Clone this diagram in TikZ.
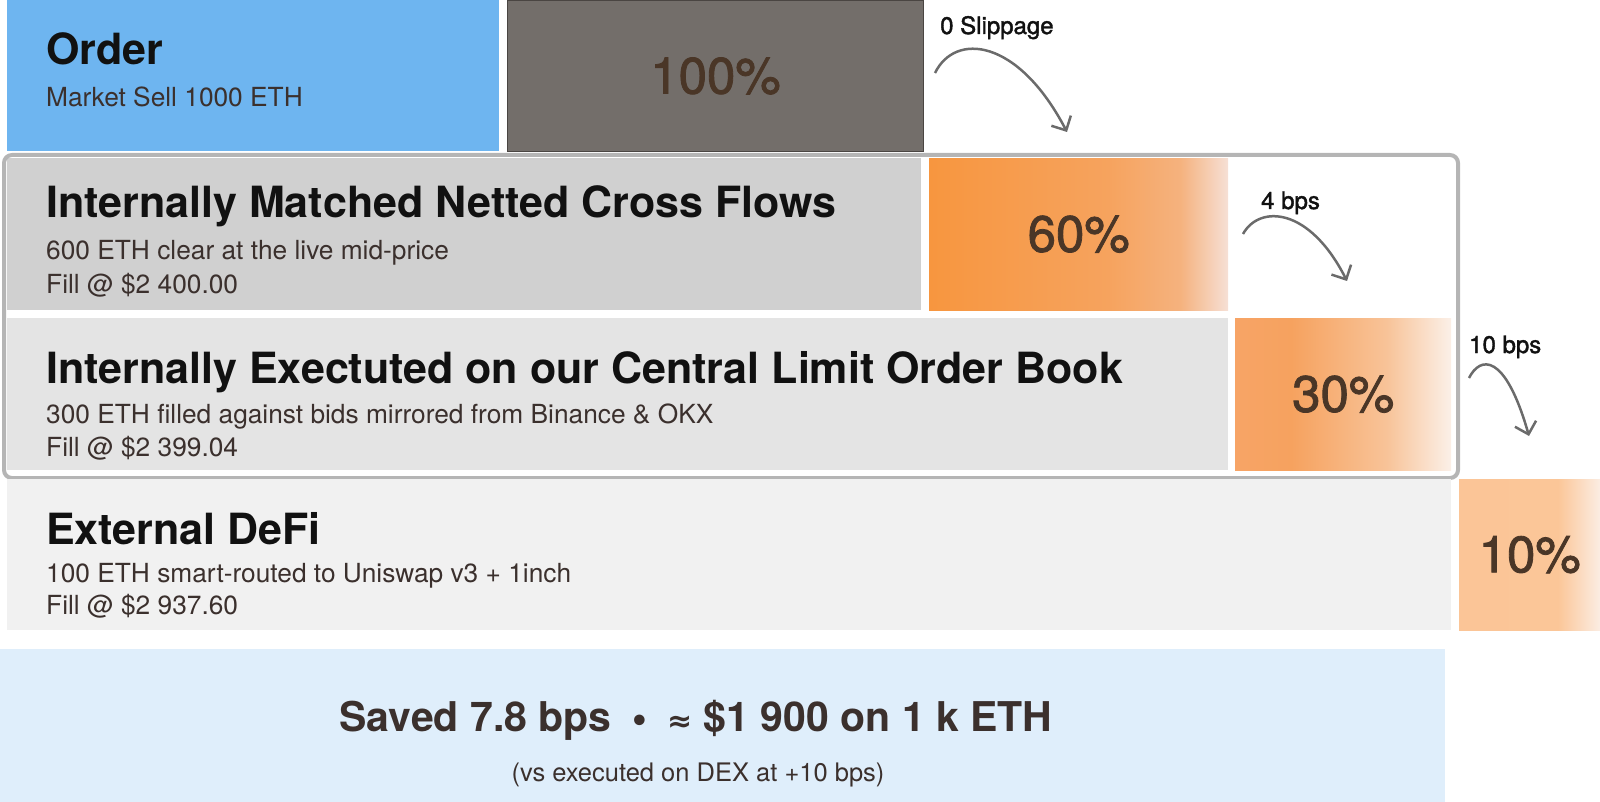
\documentclass[tikz,border=0pt]{standalone}
\usepackage{fontspec}
\setmainfont{TeX Gyre Heros}
\newfontfamily\symfont{DejaVu Sans}
\newfontfamily\midfont[FakeBold=1.6]{TeX Gyre Heros}
\usetikzlibrary{arrows.meta, positioning}
\usepackage{xcolor}

\definecolor{orderblue}{HTML}{6EB5F0}
\definecolor{fullgray}{HTML}{736E6A}
\definecolor{fulledge}{HTML}{4A4542}
\definecolor{rowA}{HTML}{D0D0D0}
\definecolor{rowB}{HTML}{E4E4E4}
\definecolor{rowC}{HTML}{F1F1F1}
\definecolor{savebg}{HTML}{DFEEFB}
\definecolor{framegray}{HTML}{B5B5B5}
\definecolor{titleink}{HTML}{111111}
\definecolor{subink}{HTML}{3B302D}
\definecolor{pctink}{HTML}{4A3627}
\definecolor{arrowgray}{HTML}{6B6B6B}

% orange fades for the share boxes
\definecolor{oA1}{HTML}{F7963F}
\definecolor{oA2}{HTML}{F6A35E}
\definecolor{oA3}{HTML}{F5B27E}
\definecolor{oA4}{HTML}{F6E0D6}
\definecolor{oB1}{HTML}{F7A466}
\definecolor{oB2}{HTML}{F6A25F}
\definecolor{oB3}{HTML}{F8C398}
\definecolor{oB4}{HTML}{FBF0E8}
\definecolor{oC1}{HTML}{FBC597}
\definecolor{oC2}{HTML}{FBC698}
\definecolor{oC3}{HTML}{FBEDE3}

\pgfdeclarehorizontalshading{fadesixty}{100bp}{color(0bp)=(oA1); color(25bp)=(oA1); color(55bp)=(oA2); color(67bp)=(oA3); color(75bp)=(oA4); color(100bp)=(oA4)}
\pgfdeclarehorizontalshading{fadethirty}{100bp}{color(0bp)=(oB1); color(25bp)=(oB1); color(38bp)=(oB2); color(60bp)=(oB3); color(75bp)=(oB4); color(100bp)=(oB4)}
\pgfdeclarehorizontalshading{fadeten}{100bp}{color(0bp)=(oC1); color(25bp)=(oC1); color(60bp)=(oC2); color(75bp)=(oC3); color(100bp)=(oC3)}

\begin{document}
\begin{tikzpicture}[
    x=1pt, y=-1pt,
    panel/.style={rectangle, anchor=north west, inner sep=0pt},
    pct/.style={text=pctink, font=\fontsize{51}{56}\midfont},
    title/.style={anchor=base west, inner sep=0pt, text=titleink, font=\fontsize{43}{48}\selectfont\bfseries},
    sub/.style={anchor=base west, inner sep=0pt, text=subink, font=\fontsize{26.3}{30}\selectfont},
    slip/.style={anchor=base west, inner sep=0pt, text=titleink, font=\fontsize{24}{28}\midfont},
    flow/.style={draw=arrowgray, line width=2.5pt, -{Straight Barb[length=11pt, width=22pt]}}
]
\useasboundingbox (0,0) rectangle (1600,802);

% Order
\node[panel, fill=orderblue, minimum width=492, minimum height=151] (order) at (7,0) {};
\node[panel, fill=fullgray, draw=fulledge, line width=1pt, minimum width=416, minimum height=151] (full) at (507,0) {};
\node[pct] (fullpct) at (full.center) {100\%};
\node[title] (ordertitle) at (46,65) {Order};
\node[sub] (ordersub) at (46,107) {Market Sell 1000 ETH};

% Internal venues
\node[panel, fill=rowA, minimum width=914, minimum height=152] (matched) at (7,158) {};
\node[panel, shading=fadesixty, minimum width=299, minimum height=152] (sixty) at (929,158) {};
\node[pct] (sixtypct) at (sixty.center) {60\%};
\node[title] (matchedtitle) at (46,218) {Internally Matched Netted Cross Flows};
\node[sub] (matchedsub) at (46,260) {600 ETH clear at the live mid-price};
\node[sub] (matchedfill) at (46,293) {Fill @ \$2 400.00};

\node[panel, fill=rowB, minimum width=1221, minimum height=152] (clob) at (7,318) {};
\node[panel, shading=fadethirty, minimum width=216, minimum height=152] (thirty) at (1235,318) {};
\node[pct] (thirtypct) at (thirty.center) {30\%};
\node[title] (clobtitle) at (46,383) {Internally Exectuted on our Central Limit Order Book};
\node[sub] (clobsub) at (46,423) {300 ETH filled against bids mirrored from Binance \& OKX};
\node[sub] (clobfill) at (46,456) {Fill @ \$2 399.04};

\node[panel, draw=framegray, line width=4pt, rounded corners=8pt, minimum width=1454, minimum height=323] (internal) at (2,153) {};

% External
\node[panel, fill=rowC, minimum width=1444, minimum height=151] (defi) at (7,479) {};
\node[panel, shading=fadeten, minimum width=141, minimum height=151] (ten) at (1459,479) {};
\node[pct] (tenpct) at (ten.center) {10\%};
\node[title] (defititle) at (46,544) {External DeFi};
\node[sub] (defisub) at (46,582) {100 ETH smart-routed to Uniswap v3 + 1inch};
\node[sub] (defifill) at (46,614) {Fill @ \$2 937.60};

% Savings
\node[panel, fill=savebg, minimum width=1445, minimum height=153] (savings) at (0,649) {};
\node[anchor=base, inner sep=0pt, text=subink, font=\fontsize{41}{46}\selectfont\bfseries] (saved) at (696,731)
    {Saved 7.8 bps \,{\symfont\fontsize{30}{30}\selectfont •}\, {\symfont\fontsize{30}{30}\selectfont ≈} \$1 900 on 1 k ETH};
\node[anchor=base, inner sep=0pt, text=subink, font=\fontsize{25.5}{30}\selectfont] (savednote) at (698,781)
    {(vs executed on DEX at +10 bps)};

% Slippage arrows
\node[slip] (slipzero) at (940,34) {0 Slippage};
\coordinate (zerofrom) at (935,73);
\coordinate (zeroto) at (1067,132);
\draw[flow] (zerofrom) .. controls (955,32) and (1018,38) .. (zeroto);

\node[slip] (slipfour) at (1261,209) {4 bps};
\coordinate (fourfrom) at (1243,234);
\coordinate (fourto) at (1347,281);
\draw[flow] (fourfrom) .. controls (1259,205) and (1309,206) .. (fourto);

\node[slip] (slipten) at (1469,353) {10 bps};
\coordinate (tenfrom) at (1469,378);
\coordinate (tento) at (1529,436);
\draw[flow] (tenfrom) .. controls (1480,356) and (1505,352) .. (tento);

\end{tikzpicture}
\end{document}
